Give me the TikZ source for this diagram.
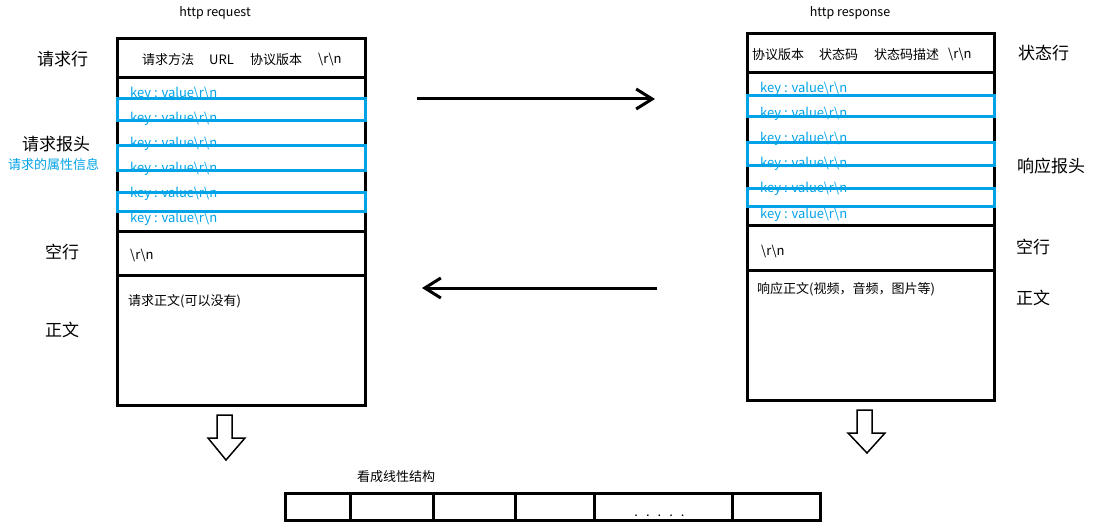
\documentclass[tikz,border=0pt]{standalone}
\usepackage{fontspec}
\setmainfont{Noto Sans CJK SC}
\usetikzlibrary{arrows.meta}
\definecolor{cblue}{RGB}{0,162,232}
\newcommand{\rn}{\textbackslash r\textbackslash n}
\begin{document}
\begin{tikzpicture}[x=1pt,y=-1pt,
  box/.style={line width=3pt, draw=black},
  hl/.style={line width=3pt, draw=cblue},
  lbl/.style={font=\fontsize{17}{17}\selectfont, inner sep=0, anchor=west},
  txt/.style={font=\fontsize{13}{13}\selectfont, inner sep=0, anchor=west},
  kv/.style={txt, text=cblue},
  ttl/.style={font=\fontsize{12.5}{12.5}\selectfont, inner sep=0},
  flow/.style={line width=3pt, -{Straight Barb[length=16pt,width=20pt,line width=3pt]}},
  hollow/.style={line width=1.5pt, draw=black, line join=miter}]
\useasboundingbox (0,0) rectangle (1100,532);

% titles
\node[ttl] (t1) at (215,13) {http request};
\node[ttl] (t2) at (850,13) {http response};

% left labels
\node[lbl] (l1) at (37,59) {请求行};
\node[lbl] (l2) at (22,144) {请求报头};
\node[txt, text=cblue] (l3) at (8,165) {请求的属性信息};
\node[lbl] (l4) at (45,252) {空行};
\node[lbl] (l5) at (45,330) {正文};

% right labels
\node[lbl] (r1) at (1018,53) {状态行};
\node[lbl] (r2) at (1017,166) {响应报头};
\node[lbl] (r3) at (1016,247) {空行};
\node[lbl] (r4) at (1016,298) {正文};

% left box
\draw[box] (117.5,38.5) rectangle (365.5,405);
\draw[box] (117.5,78) -- (365.5,78);
\draw[box] (117.5,231) -- (365.5,231);
\draw[box] (117.5,275) -- (365.5,275);
\node[txt] (q1) at (142,60) {请求方法};
\node[txt] (q2) at (209,60) {URL};
\node[txt] (q3) at (250,60) {协议版本};
\node[txt] (q4) at (318,60) {\rn};
\foreach \y/\n in {94/a,119/b,144/c,169/d,194/e,219/f}
  \node[kv] (lk\n) at (130,\y) {key : value\rn};
\node[txt] (q5) at (130,256) {\rn};
\node[txt] (q6) at (128,301) {请求正文(可以没有)};
\draw[hl] (117.5,99) rectangle (365.5,121);
\draw[hl] (117.5,145.5) rectangle (365.5,170);
\draw[hl] (117.5,192.5) rectangle (365.5,211);

% right box
\draw[box] (747.5,34) rectangle (994,400.5);
\draw[box] (747.5,73) -- (994,73);
\draw[box] (747.5,225) -- (994,225);
\draw[box] (747.5,270) -- (994,270);
\node[txt] (s1) at (752,55) {协议版本};
\node[txt] (s2) at (819,55) {状态码};
\node[txt] (s3) at (874,55) {状态码描述};
\node[txt] (s4) at (948,55) {\rn};
\foreach \y/\n in {89/a,114/b,139/c,164/d,189/e,215/f}
  \node[kv] (rk\n) at (760,\y) {key : value\rn};
\node[txt] (s5) at (761,252) {\rn};
\node[txt] (s6) at (757,289) {响应正文(视频，音频，图片等)};
\draw[hl] (747.5,96) rectangle (994,117);
\draw[hl] (747.5,142.5) rectangle (994,165);
\draw[hl] (747.5,188) rectangle (994,206);

% arrows between
\coordinate (a1s) at (417,99);
\coordinate (a1e) at (655,99);
\coordinate (a2s) at (657,288);
\coordinate (a2e) at (422,288);
\draw[flow] (a1s) -- (a1e);
\draw[flow] (a2s) -- (a2e);

% hollow down arrows
\draw[hollow] (217,415) -- (232,415) -- (232,438) -- (245,438) -- (226,460) -- (208,438) -- (217,438) -- cycle;
\draw[hollow] (857,410) -- (872,410) -- (872,433) -- (885,433) -- (867,453) -- (848,433) -- (857,433) -- cycle;

% linear structure
\node[txt] (lin) at (357,477) {看成线性结构};
\draw[box] (285.5,493.5) rectangle (820,520.5);
\foreach \x in {350,433,515,594,732}
  \draw[box] (\x,493.5) -- (\x,520.5);
\node[txt, anchor=base] (dots) at (659.5,516) {.\hspace{8pt}.\hspace{8pt}.\hspace{8pt}.\hspace{8pt}.};
\end{tikzpicture}
\end{document}
